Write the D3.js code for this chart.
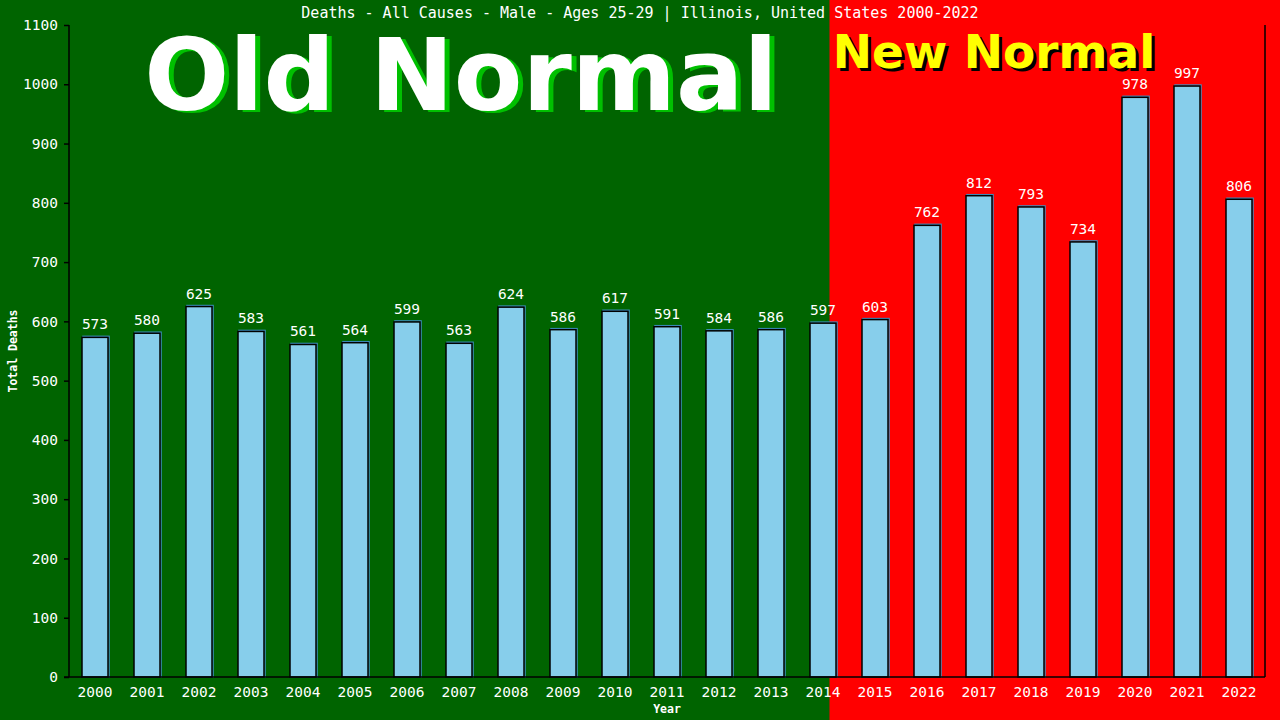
<!DOCTYPE html>
<html>
<head>
<meta charset="utf-8">
<script src="https://cdn.jsdelivr.net/npm/d3@7"></script>
<style>
  body { margin: 0; background: #000; }
  svg { display: block; }
  text { font-family: "DejaVu Sans Mono", monospace; }
</style>
</head>
<body>
<svg id="mainsvg" width="1280" height="720"></svg>
<script>
const years = ['2000', '2001', '2002', '2003', '2004', '2005', '2006', '2007', '2008', '2009', '2010', '2011',
    '2012', '2013', '2014', '2015', '2016', '2017', '2018', '2019', '2020', '2021', '2022'];
const deaths = [573, 580, 625, 583, 561, 564, 599, 563, 624, 586, 617, 591,
    584, 586, 597, 603, 762, 812, 793, 734, 978, 997, 806];
const yTicks = [0, 100, 200, 300, 400, 500, 600, 700, 800, 900, 1000, 1100];
const lastOldYear = '2014';

const svg = d3.select('#mainsvg');
const width = +svg.attr('width');
const height = +svg.attr('height');
const margin = { top: 25, right: 15, bottom: 43, left: 69 };
const innerWidth = width - margin.left - margin.right;
const innerHeight = height - margin.top - margin.bottom;

const data = years.map((y, i) => ({ year: y, value: deaths[i] }));

const xScale = d3.scaleBand()
    .domain(years)
    .range([0, innerWidth])
    .paddingInner(0.5)
    .paddingOuter(0.25);

const yScale = d3.scaleLinear()
    .domain([0, 1100])
    .range([innerHeight, 0]);

// background split: green for old normal, red for new normal
const splitX = margin.left + xScale(lastOldYear) + xScale.bandwidth() * 0.75;
svg.append('rect').attr('x', 0).attr('y', 0).attr('width', width).attr('height', height).attr('fill', '#006400');
svg.append('rect').attr('x', splitX).attr('y', 0).attr('width', width - splitX).attr('height', height).attr('fill', '#ff0000');

// big labels
const oldG = svg.append('g').attr('font-weight', 'bold').attr('font-size', 100);
oldG.append('text').text('Old Normal').attr('x', 466).attr('y', 112).attr('text-anchor', 'middle')
    .attr('fill', '#00c000').style('font-family', '"DejaVu Sans", sans-serif');
oldG.append('text').text('Old Normal').attr('x', 461).attr('y', 110).attr('text-anchor', 'middle')
    .attr('fill', '#ffffff').style('font-family', '"DejaVu Sans", sans-serif');

const newG = svg.append('g').attr('font-weight', 'bold').attr('font-size', 47);
newG.append('text').text('New Normal').attr('x', 997).attr('y', 71).attr('text-anchor', 'middle')
    .attr('fill', '#000').style('font-family', '"DejaVu Sans", sans-serif');
newG.append('text').text('New Normal').attr('x', 994).attr('y', 68).attr('text-anchor', 'middle')
    .attr('fill', '#ffff00').style('font-family', '"DejaVu Sans", sans-serif');

// title
svg.append('text').text('Deaths - All Causes - Male - Ages 25-29 | Illinois, United States 2000-2022')
    .attr('x', 640).attr('y', 18).attr('text-anchor', 'middle')
    .attr('fill', '#fff').attr('font-size', 15);

const g = svg.append('g').attr('id', 'maingroup')
    .attr('transform', `translate(${margin.left}, ${margin.top})`);

// bars
data.forEach(d => {
    const x = xScale(d.year);
    const y = yScale(d.value);
    g.append('rect')
        .attr('x', x + 1).attr('y', y - 1)
        .attr('width', xScale.bandwidth()).attr('height', innerHeight - y + 1)
        .attr('fill', 'none').attr('stroke', '#3c8fc0').attr('stroke-width', 1.5);
    g.append('rect')
        .attr('x', x).attr('y', y)
        .attr('width', xScale.bandwidth()).attr('height', innerHeight - y)
        .attr('fill', '#87ceeb').attr('stroke', '#000').attr('stroke-width', 1.5);
    g.append('text').text(d.value)
        .attr('x', x + xScale.bandwidth() / 2).attr('y', y - 8)
        .attr('text-anchor', 'middle').attr('fill', '#fff').attr('font-size', 14.5);
});

// axes
const yAxis = d3.axisLeft(yScale).tickValues(yTicks).tickFormat(d3.format('d')).tickSize(5).tickPadding(6);
const yG = g.append('g').call(yAxis);
yG.select('.domain').attr('stroke', '#000').attr('stroke-width', 1.5).attr('d', `M0,0V${innerHeight}`);
yG.selectAll('.tick line').attr('stroke', '#000').attr('stroke-width', 1.5);
yG.selectAll('.tick text').attr('fill', '#fff').attr('font-size', 14.5)
    .style('font-family', '"DejaVu Sans Mono", monospace');

const xAxis = d3.axisBottom(xScale).tickSize(0).tickPadding(10);
const xG = g.append('g').attr('transform', `translate(0, ${innerHeight})`).call(xAxis);
xG.select('.domain').attr('stroke', '#000').attr('stroke-width', 1.5).attr('d', `M-5,0H${innerWidth}`);
xG.selectAll('.tick text').attr('fill', '#fff').attr('font-size', 14.5)
    .style('font-family', '"DejaVu Sans Mono", monospace');

// right border
g.append('line').attr('x1', innerWidth).attr('x2', innerWidth).attr('y1', 0).attr('y2', innerHeight)
    .attr('stroke', '#000').attr('stroke-width', 1.5);

// axis titles
svg.append('text').text('Total Deaths')
    .attr('transform', `translate(17, ${margin.top + innerHeight / 2}) rotate(-90)`)
    .attr('text-anchor', 'middle').attr('fill', '#fff').attr('font-size', 11.5).attr('font-weight', 'bold');
svg.append('text').text('Year')
    .attr('x', margin.left + innerWidth / 2).attr('y', 713)
    .attr('text-anchor', 'middle').attr('fill', '#fff').attr('font-size', 11.5).attr('font-weight', 'bold');
</script>
</body>
</html>
